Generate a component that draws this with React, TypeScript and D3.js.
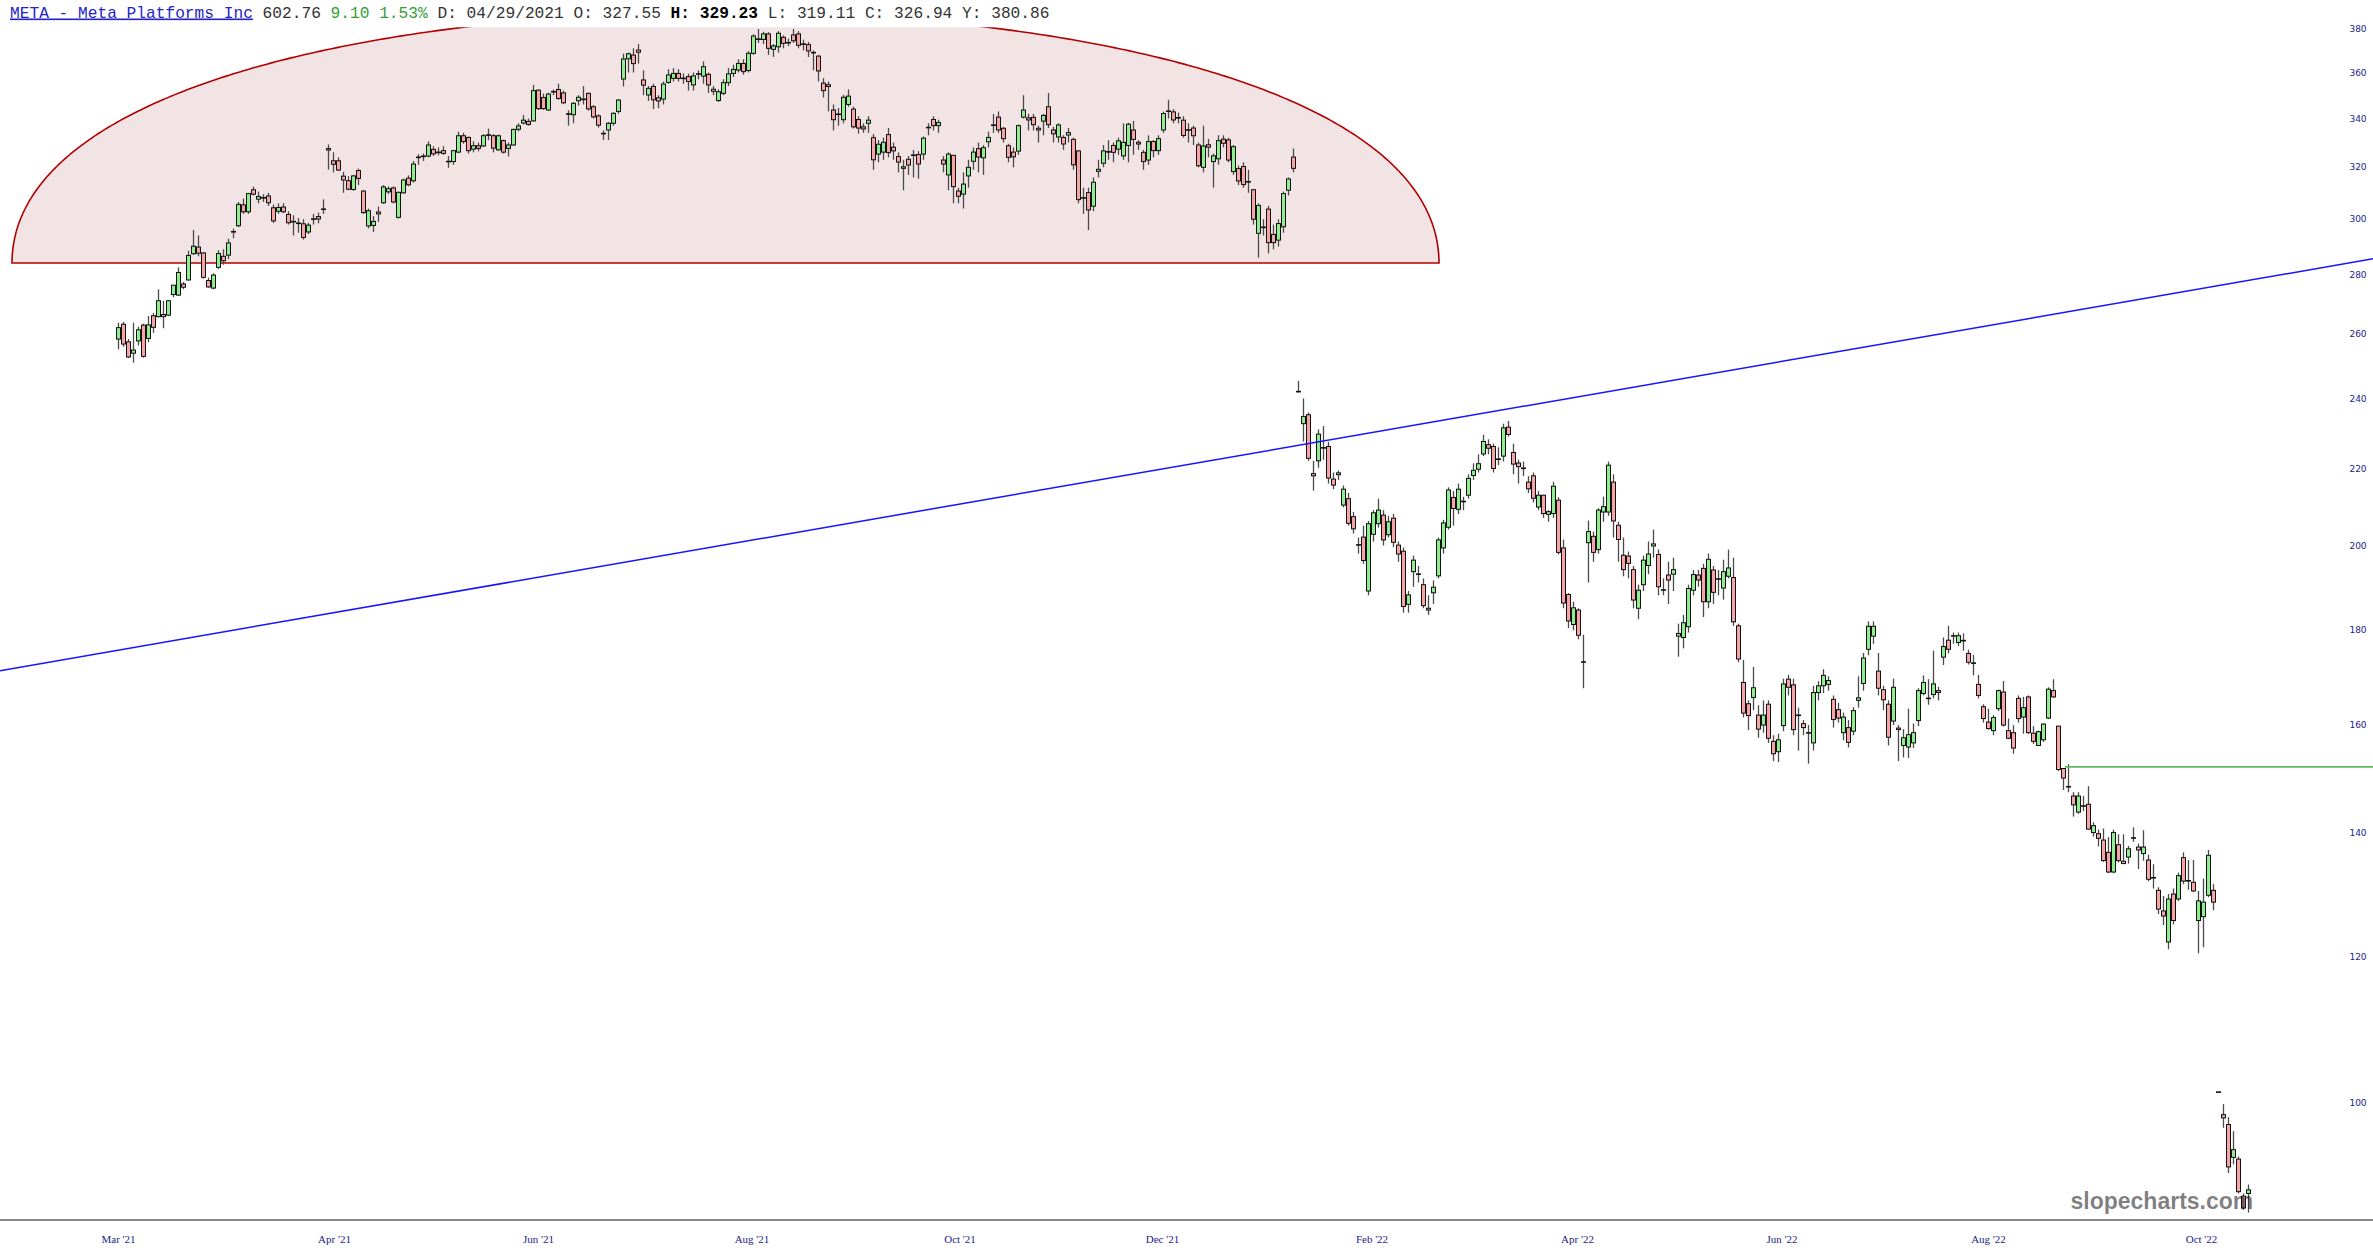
import React from 'react';
import * as d3 from 'd3';

const W = 2373;
const H = 1260;

// OHLC rows [open, high, low, close] — Mar 2021 .. Jul 2021
const ohlcMar21Jul21: number[][] = [
  [258.5,263.8,255.2,262.2],[263.3,264,256,256.9],[257.6,258.5,252.5,252.8],[254,263.8,251,255],[257.9,262.5,256.5,261.5],
  [263,263.5,252.6,253],[258.7,266,257.5,263.1],[266.1,267,260.5,262.3],[265.8,275,265.5,271.1],[266.5,271,262,265.8],
  [266.3,271.3,266,271.1],[273.2,276.4,272.3,276.4],[273,282.6,272.8,280.8],[276.8,277.5,275,275.7],[278.2,288.5,278,286.8],
  [287.4,296,287,290.1],[289.8,294,286.5,287.6],[287.7,288,278.7,279.1],[278,279,275.5,275.8],[275.4,280.5,275,279.9],
  [282.6,288.7,282,287.5],[286.5,289,283.5,284.9],[286.9,292.8,285.5,291.3],[295.3,296.5,293,295.4],[297.6,306.5,297,305.6],
  [305.4,307.8,302,302.8],[302.8,310,302,309.7],[311.2,312.4,309,309.5],[307.6,310.5,306,308.6],[308,309.5,306.5,308.2],
  [308.8,310,305,306.2],[304.3,305.5,298.6,299.4],[303,306,302,304.4],[304.6,306,302.3,302.8],[301.8,303,298,298.7],
  [299.2,301.5,294,299],[298.6,300.5,295,298.4],[298.3,300,292.5,293.3],[295.3,298.7,294.5,297.8],[300,302,298,300.1],
  [301,302.5,298.5,300.1],[303.7,307.5,302,303.8],[327.55,329.23,319.11,326.94],[322.6,326,318,321.2],[322.6,324,318.5,318.9],
  [316.5,318.2,310,315],[314.7,316.5,311,311.4],[311.3,317,310.8,316.6],[318.7,319.5,313,315.6],[310.7,311,302,302.5],
  [297.5,304,296.6,303.2],[297.7,301.2,295.3,299.2],[302.7,304.8,299,302],[306.2,313,305.8,312.3],[310.4,312.5,309.5,311.6],
  [311.9,312.5,306,306.5],[300.7,310.5,300.3,310.2],[310,315.5,309.7,315],[315.7,316.8,312.6,313.1],[314.7,322.5,314,321.3],
  [323.9,325.2,321,324.1],[324.7,325.5,322.5,324.1],[324.5,330.5,324,329],[327.2,328.5,324.5,325.4],[326.1,328,324.8,325.9],
  [326.7,328.5,325,325.6],[322.2,324.5,319.8,322.4],[322.3,327,321,326.7],[326.1,334.5,325.7,332.8],[332.8,334,329.5,330.4],
  [332.1,332.5,325.5,326.7],[327.3,330.5,326,328.7],[328.7,330,326.4,327.6],[328.6,333.5,328.2,332.8],[333,335.8,331,333.2],
  [332.8,333.5,326,327.7],[327,333.3,326.6,332.8],[330.8,331.2,325.5,326.1],[327.6,330,324.3,329],[329,335.8,328.7,335.4],
  [335.5,338,334.6,336.9],[338.1,341.5,337.5,339.3],[338.8,340,337,337.5],[339,354.5,338.7,352],[352.2,352.5,343.6,344.2],
  [349,350.7,343.7,344.2],[343.6,351,343.2,350.5],[351.4,352.5,350,351.6],[352.5,355,348,348.6],[351,352,346.2,346.7],
  [342,343.5,337,341.8],[341.6,347,338,346.5],[347.6,350,345.5,349.1],[348.3,354,346,348.1],[350.8,351.2,343.3,344.1],
  [345,345.7,340,340.7],[341.1,341.8,336.2,337.2],[333.8,335,331,333.6],[335.2,338.5,331,338],[338,342.7,337,342.2],
  [343,348.3,342,347.9],[357.1,368.5,353.8,366.1],[366.2,369,360,368.5],[367.9,371,360,364],[370.2,373,364,369.2],
  [356.7,361,350,354.4],
];

// Aug 2021 .. Feb 2 2022
const ohlcAug21Feb22: number[][] = [
  [350.1,354,347.5,353],[353.8,355,344,348],[348.9,350,344.4,347.5],[348.3,356,346,354.9],[355.6,361.5,355,358.9],
  [357.4,362,356,359.6],[359.6,361.5,356,357.4],[357.5,359.6,355,357.3],[358.2,359.5,352,356],[354.5,360,352,358.5],
  [359.3,361,357,359.4],[358.4,365,355,362.6],[359.2,360,351,354.5],[352.6,354,350,351.7],[347.7,352.5,347,351.5],
  [350.8,357,350,355.5],[355.5,362,354,359.4],[359.6,363.5,358,361.4],[361.1,366,360,364.1],[364.1,366,359,360.4],
  [360.9,369.7,360,368.7],[368.7,377.5,368,376.7],[375.3,380,373.5,375.2],[375.1,378.7,373,377.7],[377.7,378.5,368,371],
  [370.5,373,367,372.1],[371.7,379,369,378],[376.1,377,371,373.3],[373.5,375.5,372,373.7],[377.2,380,373.5,374.5],
  [377.7,379,371,372.4],[373,375,370,372.9],[372.7,374,367,369.8],[369.1,370,361,368.9],[367.4,368,356,360.7],
  [355.3,357.5,349,352],[354.6,356,343,353.8],[343.6,346,335,339.5],[341.9,344.5,337,341.7],[339.5,350.2,338,349.1],
  [346,352.5,345,349.6],[344,345,335.8,336.5],[339.6,341,333.7,336],[336.5,338,334,335.6],[338,341,334,339.3],
  [332,333.5,319,323],[325.3,331,322,329.3],[326.1,332,323,330.1],[333.3,336,324,325.9],[328.1,330,323,326.6],
  [324.3,326,318,322.1],[319.6,323,311,320.2],[323.2,324.5,317,320.9],[324.9,327,316,324.8],[325.1,326.5,315.5,321.3],
  [325.3,332.5,323,331.8],[336.3,338,333,336.1],[339.6,341,335,337],[337,339.5,334,338.3],[322.9,324.5,318,321.3],
  [317,326,311,325.3],[324.8,325,306,312.4],[310.7,312,306,308.7],[309.5,318,304,313.4],[316.6,323,312,320],
  [322.4,328,319,326.1],[327.5,330,318,324.1],[323.8,329,317,327.9],[330.3,334.5,328,332.1],[337.3,342,334,337.1],
  [340.6,343,334,335.2],[335.9,336.5,330,331.6],[328.7,329.5,322,324],[326.1,328,320,324.2],[326.5,337.5,325,337],
  [340.6,350,340,343.6],[340.3,342,335,339.4],[340.5,342,335,337.4],[335.9,337,330,335.2],[338.9,342,333,341.3],
  [345,351,336,337.4],[335.2,336.5,330,333.6],[332.3,338,330,337.3],[332.1,333,327,329.4],[333.1,336,330,334.1],
  [331.3,332,319,321],[326.6,327,306,307.4],[307.9,312,302,308.2],[310.1,312,296,303.5],[304.9,316,303,314.1],
  [318.4,323,316,319.2],[321.6,329,320,326.6],[326.3,331,323,326.1],[328.8,330,322,326],[327.3,332,325,330.7],
  [324.6,338,323,330.1],[328.8,338.2,322,337.6],[335.2,339,325,331.3],[330.1,331,327,329.4],[326,327,319,322.3],
  [322.9,333,321,330.4],[330.4,331,324,326.7],[326.7,333,325,331.6],[335.2,343,334,342.1],[343.2,348,340,343],
  [342.8,344,338,339.4],[340.4,342.5,338,340.2],[339.3,341,332,332.9],[335.3,338,330,335.1],[336,337,329,332.8],
  [329,330,320,320.6],[320,337,318,328.6],[329.1,331.5,324,328.1],[322.3,325.5,312,324.6],[323.4,333,321,330.8],
  [331.4,333,328,329.7],[331.1,332,322,322.9],[318.3,329,317,328.3],[319.5,320.7,313,314.6],[320.3,322,312,313.2],
  [314.4,319,310,314.2],[311.2,311.5,298,300],[294.8,306,286,305.2],[297.1,300,294,296.9],[303.8,305,287.5,291.4],
  [294.4,298,289,291.4],[292.3,300,290,298.4],[297.2,310.5,295,309.7],[311,316,309,315.4],[324.1,327.6,318,319.6],
];

// Feb 3 2022 .. Jul 28 2022
const ohlcFeb22Jul22: number[][] = [
  [242.2,245.4,241.9,242.1],[232.7,240.1,227.6,234.8],[235.3,236,222.2,222.9],[218.7,222.2,214.1,218.1],[222.2,231,220.3,229.7],
  [225.9,232,222.5,225.7],[226.2,227.5,216,217.5],[217.2,219,214.5,215.6],[218.4,219.5,217,218.9],[210.3,215.5,209.7,214.5],
  [212,213.5,205,205.6],[207.3,208.5,203,204.2],[200.1,202,198,200.2],[202.1,205,195.5,196.3],[189,206.2,188,205.5],
  [202.8,209,201,208.3],[205.5,212,204.5,209],[207.7,209,200,201.4],[202.7,207.5,202,206],[206.9,208,199.6,200.8],
  [200.1,201,196,197.9],[198.6,199.5,184,185.4],[185.9,189,184,188.1],[193.6,197.5,190,196.4],[193.1,195,191,192.9],
  [190.5,192,185,185.6],[185,188,183.5,184.6],[188.6,191.5,186,189.9],[192.6,202,192,201.4],[199.4,206.5,198,205.7],
  [204.6,215,204,214.3],[212.3,214,205,209.4],[209.2,216,208,214.5],[211.2,212.5,209,211.3],[212.9,218.5,212,217.4],
  [218.2,221.5,217,219.6],[219.9,224,219,221.4],[224.1,229.5,223.5,227.6],[226.7,228.2,224,225.7],[226.2,227,219,220.1],
  [222.7,226,221,222.6],[223.5,232.7,222,231.5],[231.7,233.5,229,229.6],[224.5,227,218.5,221.3],[221.6,222.5,216,220.6],
  [220.2,222,218,220.1],[216.4,218,213.5,214.6],[218.1,219,211,212.1],[209.8,214,209,212.9],[212.9,213,207,208.1],
  [207.9,209,206,208.6],[208.1,216.5,207,215.3],[211.6,212.4,197.8,198.3],[199.4,201.5,185,186.2],[188.2,188.5,180.5,182.1],
  [181.3,186.5,180,185.1],[184.6,185,178,178.9],[173.1,179,167.5,173],[200.7,206.3,191,203.5],[202.3,203.5,196,198.3],
  [199,209.5,198,209],[208.5,212.5,206,209.9],[208.5,222,207.5,221],[216.4,218.5,202,206.2],[205.1,206,196,201.5],
  [197.6,202,192.5,194.1],[197.4,198.5,192,195.6],[194.1,195,185,186.9],[185,190.5,182.5,189.2],[190.5,197.5,189,196.4],
  [195.1,201,193,197.9],[199.9,204,197,200.4],[197.8,199,188,190],[189.3,192,188,189.2],[192.8,196,186,191.6],
  [193,197,189,194.1],[178.7,181.5,174.2,179.3],[178.4,183.5,176,181.7],[180.8,190.5,179.5,189.6],[189.2,194,188,192.9],
  [192.8,194,190,191.6],[194.4,195.5,183,186.5],[186.5,198,185,196.6],[194,195,186,188.7],[191.9,194,188,191.8],
  [189.7,196.5,187,193.6],[192.5,199,192,194.5],[192.2,197,181,181.9],[181,181.5,173,173.7],[168.7,173.5,161.5,162.4],
  [164.3,165,159,161.9],[165.6,172,163,167.6],[162,164,157.5,159.2],[160,165,158.5,162],[164.2,165,156.5,157.4],
  [156.8,158,153,154.4],[154.8,158.3,152.8,157.1],[159.9,169.5,158.8,168.4],[169.4,170.3,166,167.7],[168.2,169.5,158,159.1],
  [162.1,163.5,155,161.8],[160.3,161,158,159.5],[158.5,160,152.5,158.4],[156.5,168,155,166.6],[166.6,169,165,168],
  [168,171.5,166.5,170.2],[168.3,170,167,169.1],[165.2,166,159.5,161.1],[163.1,164.5,160.5,161.4],[158.5,162.5,157,161.6],
  [159.5,161,155.6,156.6],[158.8,163.6,158,162.9],[165,170,163.5,165.5],[168.5,175,167,173.9],[175.8,182,174.5,180.9],
  [178.7,182,177,180.9],[171.1,175,166,167.5],[167.2,168,163,165.1],[164.2,165,156,157.6],[160.8,169.5,160,167.7],
  [159.4,160,153,159.1],
];

// Jul 29 2022 .. Nov 4 2022
const ohlcJul22Nov22: number[][] = [
  [156,159.2,153.7,157.5],[155.7,163.3,153.6,158.1],[156.5,160.3,155.5,158.5],[160.9,167.5,159.8,167],[166.4,170.2,166,168.7],
  [165.5,169.4,164.1,165.3],[166.2,175.5,165.4,168.4],[167,167.8,165,166.6],[174.1,178.4,172.4,176.4],[177.8,181,174.9,175.8],
  [178.8,179.5,177,178.7],[177.3,179.5,176.5,178.8],[177.8,179.3,175.5,177.6],[174.9,175.7,172.5,173],[172.9,174.6,170.2,172.7],
  [168.3,170.3,165.4,166],[163.7,164.2,160.5,161.3],[160.6,163.3,159.1,159.3],[158.9,162,158,161.5],[163.3,167.2,162.8,167],
  [166.7,169,159.7,160],[158.9,161.3,157.2,157.4],[158.5,160,154.4,155.5],[165.4,166,160.5,161.3],[161.6,165.7,158.3,163.5],
  [165.7,166,158.3,158.5],[158.4,159.8,156.3,156.8],[156,158.9,156,158.7],[157.1,160.3,156.7,160.2],[161.4,167.7,161.2,167.3],
  [167,169.4,165.5,165.7],[159.8,159.8,151.1,151.4],[151.6,151.6,147.6,149.8],[148.3,152.4,147.2,148.1],[146.5,147.2,142.8,144.9],
  [143.6,147.2,143.3,146.5],[144.8,146.5,143.8,144.6],[145,148.3,140.5,140.6],[140,141.8,139.3,141.2],[139.8,140.5,137.6,139],
  [138.7,140.7,135,135.2],[136.6,139.2,133.1,133.3],[133.3,140.5,133.1,140],[137.9,139.7,134.9,135.2],[135.1,139.7,134.7,134.7],
  [135.8,137.7,134.7,137.2],[139.1,140.9,138.4,139],[137.5,138.1,133.8,137],[136.4,140.4,135.2,137.5],[135.3,136.2,131.8,132.1],
  [132.4,134.6,130.6,132.3],[130.3,130.8,126.5,127.3],[127,129.4,124.8,126.2],[122.2,129.7,121.1,128.9],[129.7,130.6,124.9,125.5],
  [128.9,133.2,128.6,132.7],[135.7,136.6,131.3,131.8],[131.9,135.3,130.4,131.8],[131.6,135.3,130,130.2],[125.5,130.2,120.5,128.6],
  [126.1,132.2,121.4,128.4],[129.5,137,129.2,136.1],[130.3,131.3,127.1,128.4],[101.4,101.4,101.4,101.4],[98.6,99.9,97,98.2],
  [97.4,98.3,91.7,92.4],[93.5,96.6,92.7,94.4],[93.3,93.6,89.4,89.6],[89.1,89.4,87.6,87.8],[89.4,90.4,87.3,89.8],
];

const priceTicks = [100, 120, 140, 160, 180, 200, 220, 240, 260, 280, 300, 320, 340, 360, 380];
const timeTickLabels = ["Mar '21", "Apr '21", "Jun '21", "Aug '21", "Oct '21", "Dec '21", "Feb '22", "Apr '22", "Jun '22", "Aug '22", "Oct '22"];
const timeTickIndex = [0.1, 43.3, 84.1, 126.8, 168.4, 208.9, 250.8, 291.9, 332.8, 374.1, 416.7];

// annotations, in data units (candle index, price)
const trendLine = [[-23.6, 171.2], [451, 285.6]];
const supportLine = { fromIndex: 389.4, price: 151.9 };
const domeShape = { leftIndex: -21.2, rightIndex: 264.2, basePrice: 284.1, topPrice: 388.1 };

const candles = [...ohlcMar21Jul21, ...ohlcAug21Feb22, ...ohlcFeb22Jul22, ...ohlcJul22Nov22].map(
  ([o, h, l, c], i) => ({ i, o, h, l, c })
);

export default function App() {
  const n = candles.length;
  const x = d3.scaleLinear().domain([0, n - 1]).range([118, 118 + 5 * (n - 1)]);
  const y = d3.scaleLog().domain([86.5, 380.86]).range([1220, 27.2]);

  const line = d3.line<number[]>().x((d) => x(d[0])).y((d) => y(d[1]));

  const domePts: number[][] = [];
  const ci = (domeShape.leftIndex + domeShape.rightIndex) / 2;
  const a = (domeShape.rightIndex - domeShape.leftIndex) / 2;
  for (let k = 0; k <= 360; k++) {
    const t = (Math.PI * k) / 360;
    domePts.push([ci - a * Math.cos(t), domeShape.basePrice + (domeShape.topPrice - domeShape.basePrice) * Math.sin(t)]);
  }
  const domePath = line(domePts) + 'Z';

  const up = '#90ee90';
  const down = '#f5a5a5';

  return (
    <svg width={W} height={H} style={{ position: 'absolute', left: 0, top: 0, background: '#fff' }}
      xmlns="http://www.w3.org/2000/svg">
      <defs>
        <clipPath id="plotClip">
          <rect x={0} y={y(380.86)} width={W} height={1220 - y(380.86)} />
        </clipPath>
      </defs>
      <rect x={0} y={0} width={W} height={H} fill="#fff" />

      <g clipPath="url(#plotClip)">
        <path d={domePath} fill="#f2e4e4" stroke="#b30000" strokeWidth={1.6} />
      </g>

      <g>
        {candles.map((d) => {
          const cx = Math.round(x(d.i)) + 0.5;
          const yo = y(d.o);
          const yc = y(d.c);
          const top = Math.min(yo, yc);
          const bh = Math.abs(yo - yc);
          const isUp = d.c >= d.o;
          const doji = bh < 1.5;
          return (
            <g key={d.i}>
              {d.h > d.l && (
                <line x1={cx} x2={cx} y1={y(d.h)} y2={y(d.l)} stroke="#4a4a4a" strokeWidth={1.3} />
              )}
              {doji ? (
                <line x1={cx - 2.5} x2={cx + 2.5} y1={(yo + yc) / 2} y2={(yo + yc) / 2} stroke="#111" strokeWidth={1.6} />
              ) : (
                <rect x={cx - 2} y={top} width={4} height={bh} fill={isUp ? up : down} stroke="#111" strokeWidth={1} />
              )}
            </g>
          );
        })}
      </g>

      <path d={line(trendLine) || ''} stroke="#1414ff" strokeWidth={1.5} fill="none" />
      <line x1={x(supportLine.fromIndex)} x2={W} y1={y(supportLine.price)} y2={y(supportLine.price)}
        stroke="#5cb85c" strokeWidth={1.6} />

      {/* price axis labels */}
      <g fontFamily="'DejaVu Sans', Verdana, sans-serif" fontSize={9} fill="#1c1c8c">
        {priceTicks.map((v) => (
          <text key={v} x={2358} y={y(v)} textAnchor="middle" dominantBaseline="central">{v}</text>
        ))}
      </g>

      {/* time axis */}
      <line x1={0} x2={W} y1={1220} y2={1220} stroke="#888" strokeWidth={2} />
      <g fontFamily="'Liberation Serif', 'Times New Roman', serif" fontSize={11} fill="#1c1c8c">
        {timeTickLabels.map((t, k) => (
          <text key={t} x={x(timeTickIndex[k])} y={1243} textAnchor="middle">{t}</text>
        ))}
      </g>

      {/* watermark */}
      <text x={2070.5} y={1209} fontFamily="'Liberation Sans', Arial, sans-serif" fontWeight="bold" fontSize={23}
        fill="#000" fillOpacity={0.5}>slopecharts.com</text>

      {/* header */}
      <text x={10} y={17.5} fontFamily="'Liberation Mono', 'Courier New', monospace" fontSize={16.2} fill="#333"
        xmlSpace="preserve" style={{ whiteSpace: 'pre' }}>
        <tspan fill="#2323c8" textDecoration="underline">META - Meta Platforms Inc</tspan>
        <tspan> 602.76 </tspan>
        <tspan fill="#34a034">9.10 1.53%</tspan>
        <tspan> D: 04/29/2021 O: 327.55 </tspan>
        <tspan fill="#000" fontWeight="bold">H: 329.23</tspan>
        <tspan> L: 319.11 C: 326.94 Y: 380.86</tspan>
      </text>
    </svg>
  );
}
